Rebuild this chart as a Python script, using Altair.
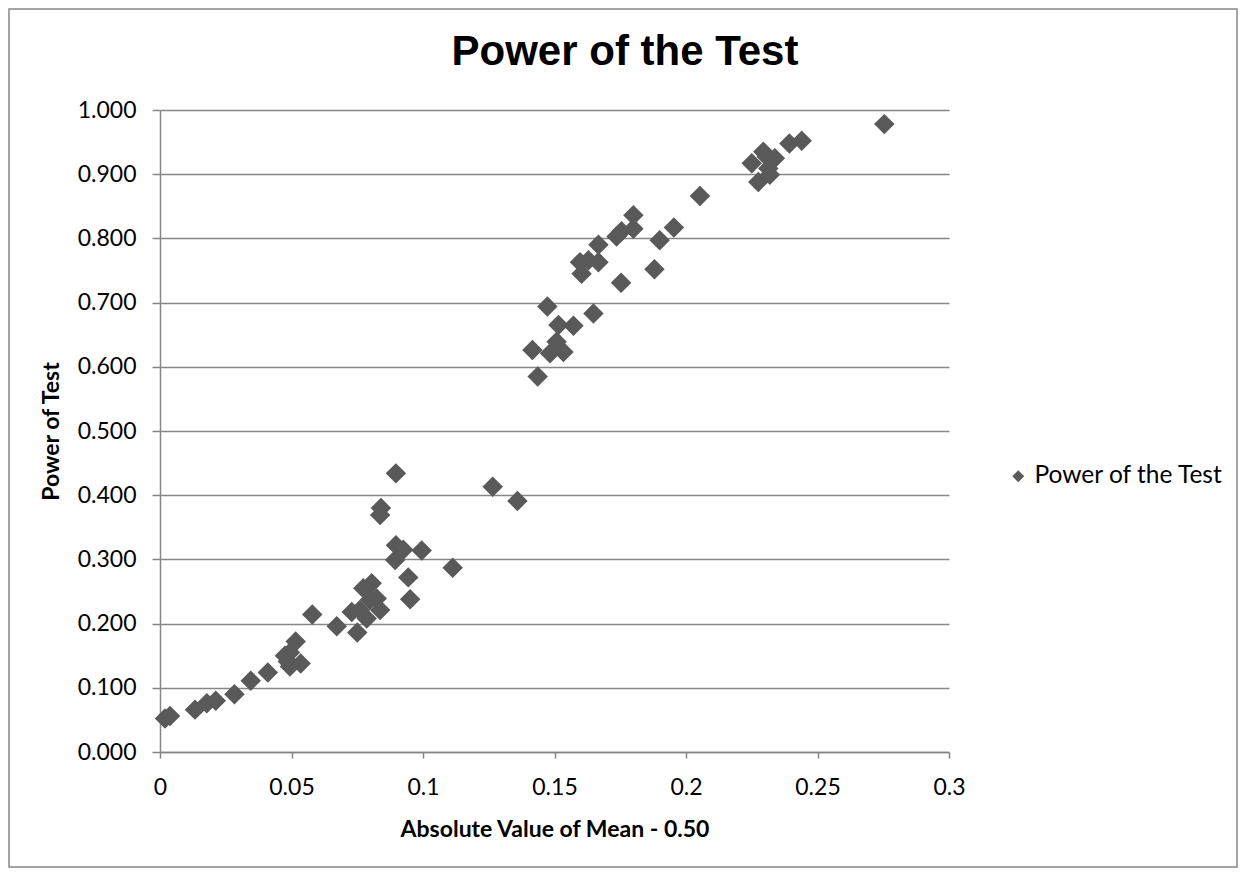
import altair as alt
import pandas as pd

abs_dev = [0.0019, 0.0038, 0.0133, 0.0178, 0.0212, 0.0283, 0.0345, 0.0410, 0.0475, 0.0486,
           0.0494, 0.0494, 0.0516, 0.0535, 0.0579, 0.0672, 0.0729, 0.0750, 0.0760, 0.0773,
           0.0786, 0.0798, 0.0805, 0.0824, 0.0837, 0.0944, 0.0951, 0.0995, 0.0897, 0.0925,
           0.0894, 0.1113, 0.0840, 0.0837, 0.0897, 0.1265, 0.1359, 0.1436, 0.1416, 0.1473,
           0.1483, 0.1515, 0.1508, 0.1534, 0.1572, 0.1648, 0.1603, 0.1597, 0.1629, 0.1667,
           0.1667, 0.1736, 0.1755, 0.1800, 0.1800, 0.1753, 0.1880, 0.1900, 0.1954, 0.2053,
           0.2250, 0.2275, 0.2294, 0.2307, 0.2313, 0.2319, 0.2338, 0.2393, 0.2440, 0.2754]
power = [0.052, 0.056, 0.066, 0.076, 0.080, 0.090, 0.111, 0.124, 0.150, 0.141,
         0.155, 0.133, 0.172, 0.138, 0.214, 0.196, 0.218, 0.186, 0.221, 0.255,
         0.208, 0.237, 0.263, 0.239, 0.221, 0.272, 0.238, 0.314, 0.322, 0.315,
         0.299, 0.287, 0.380, 0.369, 0.434, 0.413, 0.391, 0.585, 0.626, 0.694,
         0.621, 0.665, 0.639, 0.623, 0.664, 0.683, 0.745, 0.763, 0.766, 0.790,
         0.763, 0.803, 0.811, 0.836, 0.815, 0.731, 0.752, 0.797, 0.817, 0.866,
         0.917, 0.888, 0.935, 0.927, 0.909, 0.899, 0.925, 0.948, 0.952, 0.978]
series_name = "Power of the Test"
chart_title = "Power of the Test"
x_ticks = [0, 0.05, 0.1, 0.15, 0.2, 0.25, 0.3]
y_ticks = [0.0, 0.1, 0.2, 0.3, 0.4, 0.5, 0.6, 0.7, 0.8, 0.9, 1.0]

df = pd.DataFrame({"x": abs_dev, "y": power, "series": [series_name] * len(power)})

GRAY = "#868686"
MARK = "#595959"
FONT = "Lato"

points = alt.Chart(df).mark_point(shape="diamond", filled=True, size=420, opacity=1).encode(
    x=alt.X("x:Q", scale=alt.Scale(domain=[0, 0.3], nice=False, zero=True),
            axis=alt.Axis(values=x_ticks, format="~g", grid=False, tickSize=6,
                          labelFlush=False,
                          title="Absolute Value of Mean - 0.50",
                          titleY=84, titleBaseline="alphabetic", labelPadding=18)),
    y=alt.Y("y:Q", scale=alt.Scale(domain=[0, 1], nice=False),
            axis=alt.Axis(values=y_ticks, format=".3f", grid=True, tickSize=8,
                          labelFlush=False,
                          title="Power of Test", labelPadding=16,
                          titleX=-109, titleY=321, titleAngle=270,
                          titleBaseline="middle", titleAlign="center")),
    color=alt.Color("series:N", scale=alt.Scale(range=[MARK]),
                    legend=alt.Legend(title=None, orient="none", legendX=846, legendY=354,
                                      symbolType="diamond", symbolSize=140,
                                      symbolStrokeWidth=0, labelFontSize=24.5,
                                      labelFont=FONT, labelColor="#000000", padding=0,
                                      labelOffset=4, labelLimit=400)),
)

border = alt.Chart(pd.DataFrame({"a": [0]})).mark_rect(
    fillOpacity=0, stroke=GRAY, strokeWidth=1.5
).encode(x=alt.value(-151), x2=alt.value(1077), y=alt.value(-101), y2=alt.value(757))

title = alt.Chart(pd.DataFrame({"t": [chart_title]})).mark_text(
    font="Liberation Sans", fontSize=42, fontWeight="bold", color="#000000",
    align="center", baseline="alphabetic"
).encode(text="t:N", x=alt.value(465), y=alt.value(-45))

chart = alt.layer(border, title, points).properties(
    width=789, height=642,
    padding={"left": 152, "top": 102, "right": 290, "bottom": 117},
    autosize=alt.AutoSizeParams(type="none"),
).configure(background="white").configure_view(stroke=None).configure_axis(
    domainColor=GRAY, domainWidth=1.5, tickColor=GRAY, tickWidth=1.5,
    gridColor=GRAY, gridWidth=1.3, gridOpacity=1, labelFont=FONT, labelFontSize=23,
    labelColor="#000000", titleFont=FONT, titleFontSize=23, titleFontWeight="bold",
    titleColor="#000000",
)

chart.save("out.html", embed_options={"renderer": "svg", "actions": False})
